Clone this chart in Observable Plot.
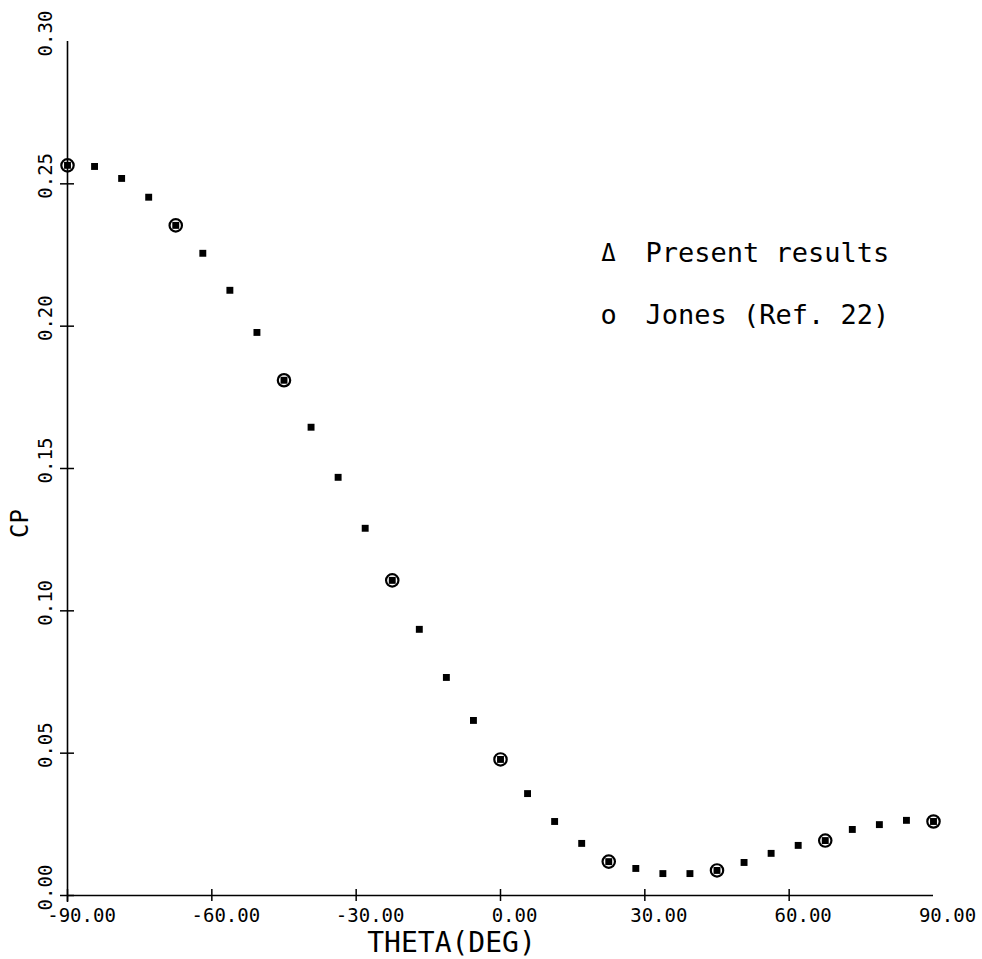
<!DOCTYPE html>
<html>
<head>
<meta charset="utf-8">
<script src="https://cdn.jsdelivr.net/npm/d3@7"></script>
<script src="https://cdn.jsdelivr.net/npm/@observablehq/plot@0.6"></script>
<style>
  html, body { margin: 0; padding: 0; background: #fff; }
</style>
</head>
<body>
<div id="chart"></div>
<script>
// Pressure coefficient CP around the body versus angle THETA (degrees)
const theta = [
  -90, -84.375, -78.75, -73.125, -67.5, -61.875, -56.25, -50.625,
  -45, -39.375, -33.75, -28.125, -22.5, -16.875, -11.25, -5.625,
  0, 5.625, 11.25, 16.875, 22.5, 28.125, 33.75, 39.375,
  45, 50.625, 56.25, 61.875, 67.5, 73.125, 78.75, 84.375, 90
];
const cpPresent = [
  0.2565, 0.2561, 0.2519, 0.2453, 0.2354, 0.2256, 0.2126, 0.1978,
  0.1810, 0.1645, 0.1469, 0.1290, 0.1107, 0.0935, 0.0766, 0.0615,
  0.0478, 0.0358, 0.0260, 0.0183, 0.0119, 0.0095, 0.0077, 0.0077,
  0.0088, 0.0116, 0.0148, 0.0176, 0.0193, 0.0232, 0.0249, 0.0264, 0.0260
];
const thetaJones = [-90, -67.5, -45, -22.5, 0, 22.5, 45, 67.5, 90];
const cpJones = [0.2565, 0.2354, 0.1810, 0.1107, 0.0478, 0.0119, 0.0088, 0.0193, 0.0260];

const xTicks = [-90, -60, -30, 0, 30, 60, 90];
const yTicks = [0, 0.05, 0.10, 0.15, 0.20, 0.25, 0.30];
const xDomain = [-90, 90];
const yDomain = [0, 0.30];

const legendSymbols = ["\u0394", "o"];
const legendLabels = ["Present results", "Jones (Ref. 22)"];

const present = theta.map((t, i) => ({theta: t, cp: cpPresent[i]}));
const jones = thetaJones.map((t, i) => ({theta: t, cp: cpJones[i]}));

const fmt = d => d.toFixed(2);
const font = "DejaVu Sans Mono";

const legendMarks = legendLabels.flatMap((label, i) => [
  Plot.text([legendSymbols[i]], {
    frameAnchor: "top-left", text: d => d, textAnchor: "middle", lineAnchor: "middle",
    dx: 541, dy: 212 + i * 62, fontSize: i === 0 ? 24 : 27
  }),
  Plot.text([label], {
    frameAnchor: "top-left", text: d => d, textAnchor: "start", lineAnchor: "middle",
    dx: 578, dy: 212 + i * 62, fontSize: 27
  })
]);

const chart = Plot.plot({
  width: 982,
  height: 959,
  marginLeft: 67,
  marginRight: 49,
  marginTop: 41,
  marginBottom: 64,
  x: {domain: xDomain, axis: null},
  y: {domain: yDomain, axis: null},
  style: {fontFamily: font, background: "white", color: "black", overflow: "visible"},
  marks: [
    // axis lines
    Plot.ruleY([yDomain[0]], {stroke: "black", strokeWidth: 1.6}),
    Plot.ruleX([xDomain[0]], {stroke: "black", strokeWidth: 1.6, insetBottom: -7}),
    // crossing tick marks
    Plot.ruleX(xTicks.filter(t => t < xDomain[1]), {
      x: d => d, y1: yDomain[0], y2: yDomain[0],
      insetTop: -6, insetBottom: -6, stroke: "black", strokeWidth: 1.5
    }),
    Plot.ruleY(yTicks.filter(t => t < yDomain[1]), {
      y: d => d, x1: xDomain[0], x2: xDomain[0],
      insetLeft: -7, insetRight: -7, stroke: "black", strokeWidth: 1.5
    }),
    // tick labels
    Plot.text(xTicks, {
      x: d => d, frameAnchor: "bottom", text: fmt,
      textAnchor: "middle", lineAnchor: "middle",
      dx: 14, dy: 20, fontSize: 19
    }),
    Plot.text(yTicks, {
      y: d => d, frameAnchor: "left", text: fmt, rotate: -90,
      textAnchor: "middle", lineAnchor: "middle",
      dx: -22, dy: -8, fontSize: 19
    }),
    // axis titles
    Plot.text(["THETA(DEG)"], {
      frameAnchor: "bottom", text: d => d, textAnchor: "middle", lineAnchor: "middle",
      dx: -49, dy: 48, fontSize: 28
    }),
    Plot.text(["CP"], {
      frameAnchor: "left", text: d => d, rotate: -90,
      textAnchor: "middle", lineAnchor: "middle",
      dx: -47, dy: 55, fontSize: 24
    }),
    // data
    Plot.dot(jones, {
      x: "theta", y: "cp", symbol: "circle", r: 6.2,
      fill: "none", stroke: "black", strokeWidth: 2.2
    }),
    Plot.dot(present, {
      x: "theta", y: "cp", symbol: "square", r: 3.9, fill: "black", stroke: "none"
    }),
    ...legendMarks
  ]
});

document.getElementById("chart").append(chart);
</script>
</body>
</html>
